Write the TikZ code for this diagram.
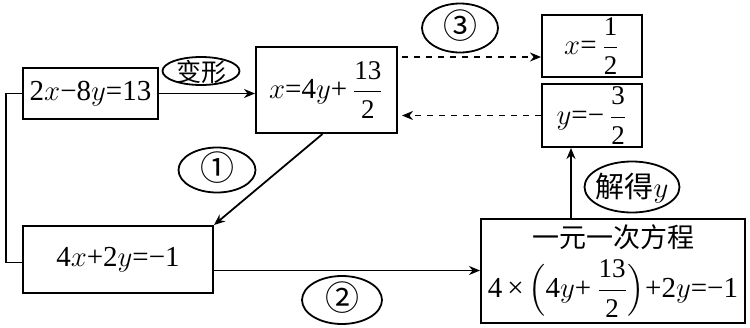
\documentclass[tikz,border=0pt]{standalone}
\usepackage{amsmath}
\usepackage{fontspec}
\setmainfont{Liberation Serif}
\newfontfamily\cjk{Noto Sans CJK SC}
\usetikzlibrary{shapes.geometric, arrows.meta}

% zero-size label box, centred on the node
\newcommand\tagbox[1]{\makebox[0pt]{\raisebox{-0.36em}[0pt][0pt]{#1}}}
\newcommand\fr[2]{$\dfrac{\text{\fontsize{13.5}{14}\selectfont#1}}{\text{\fontsize{13.5}{14}\selectfont#2}}$}

\begin{document}
\begin{tikzpicture}[x=0.5pt, y=-0.5pt,
        font=\rmfamily\fontsize{14.5}{19}\selectfont,
        box/.style={rectangle, draw=black, line width=1pt, inner sep=0pt, align=center},
        tag/.style={ellipse, draw=black, line width=0.9pt, inner sep=0pt},
        arrow/.style={-{Stealth[length=5.5pt, width=4.5pt]}, line width=0.9pt}
    ]
    \useasboundingbox (0,0) rectangle (750,327);

    \node (orig) [box, minimum width=67.5pt, minimum height=25.5pt] at (90.5,93.5) {2$x$−8$y$=13};
    \node (xexp) [box, minimum width=70.5pt, minimum height=43pt] at (326.5,90) {$x$=4$y$+\,\fr{13}{2}};
    \node (xval) [box, minimum width=50pt, minimum height=31pt] at (592,46) {$x$=\,\fr{1}{2}};
    \node (yval) [box, minimum width=50pt, minimum height=31.5pt] at (592,115.5) {$y$=−\,\fr{3}{2}};
    \node (other) [box, minimum width=95pt, minimum height=33.5pt] at (118,259.5) {4$x$+2$y$=−1};
    \node (lin) [box, minimum width=132pt, minimum height=52pt] at (613,271)
        {{\cjk\fontsize{13.5}{15}\selectfont 一元一次方程}\\[4pt]4\,×\,$\Bigl(\text{4$y$+\,}\dfrac{\text{\fontsize{13.5}{14}\selectfont 13}}{\text{\fontsize{13.5}{14}\selectfont 2}}\Bigr)$+2$y$=−1};

    \node (t0) [tag, minimum width=38.5pt, minimum height=14pt] at (201,71) {\tagbox{\fontsize{12.5}{12.5}\selectfont\cjk 变形}};
    \node (t1) [tag, minimum width=38.5pt, minimum height=22.5pt] at (217,170) {\tagbox{\fontsize{17}{17}\selectfont\cjk ①}};
    \node (t2) [tag, minimum width=40pt, minimum height=24pt] at (342,300) {\tagbox{\fontsize{17}{17}\selectfont\cjk ②}};
    \node (t3) [tag, minimum width=38pt, minimum height=24.5pt] at (460,28) {\tagbox{\fontsize{17}{17}\selectfont\cjk ③}};
    \node (t4) [tag, minimum width=47.5pt, minimum height=25.5pt] at (632,187) {\tagbox{{\cjk 解得}$y$}};

    \coordinate (xin) at ([yshift=-5.5pt]xval.west);
    \coordinate (din) at ([yshift=-5.5pt]other.east);
    \coordinate (yin) at ([xshift=-10.5pt]yval.south);

    \draw [arrow] (orig.east) -- (orig.east -| xexp.west);
    \draw [arrow, dashed, shorten <=2pt] (xin -| xexp.east) -- (xin);
    \draw [arrow, dashed, shorten >=2pt] (yval.west) -- (yval.west -| xexp.east);
    \draw [arrow] ([xshift=-2pt]xexp.south) -- (other.north east);
    \draw [arrow] (din) -- (din -| lin.west);
    \draw [arrow] (yin |- lin.north) -- (yin);
    \draw [line width=0.9pt] (orig.west) -- ++(-8pt,0) |- ([yshift=-1.5pt]other.west);
\end{tikzpicture}
\end{document}
